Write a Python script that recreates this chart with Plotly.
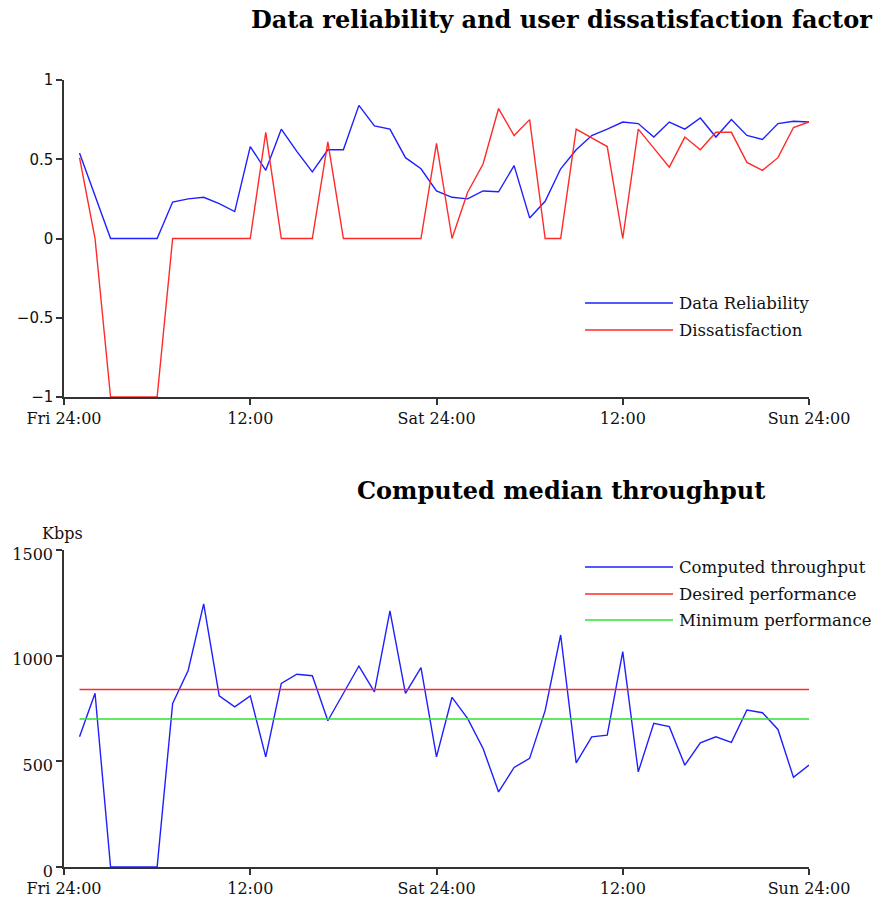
import plotly.graph_objects as go
from plotly.subplots import make_subplots

# ---- data ----
hours = list(range(1, 49))
tick_hours = [0, 12, 24, 36, 48]
tick_labels = ["Fri 24:00", "12:00", "Sat 24:00", "12:00", "Sun 24:00"]

reliability = [0.54, 0.27, 0, 0, 0, 0, 0.23, 0.25, 0.26, 0.22, 0.17, 0.58,
               0.43, 0.69, 0.55, 0.42, 0.56, 0.56, 0.84, 0.71, 0.69, 0.51, 0.44, 0.30,
               0.26, 0.25, 0.30, 0.295, 0.46, 0.13, 0.235, 0.44, 0.56, 0.65, 0.69, 0.735,
               0.725, 0.64, 0.735, 0.69, 0.76, 0.64, 0.75, 0.65, 0.625, 0.725, 0.74, 0.735]

dissatisfaction = [0.51, 0, -1, -1, -1, -1, 0, 0, 0, 0, 0, 0,
                   0.67, 0, 0, 0, 0.61, 0, 0, 0, 0, 0, 0, 0.60,
                   0, 0.29, 0.47, 0.82, 0.65, 0.75, 0, 0, 0.69, 0.635, 0.58, 0,
                   0.69, 0.57, 0.45, 0.64, 0.56, 0.67, 0.67, 0.48, 0.43, 0.51, 0.70, 0.735]

throughput = [616, 822, 0, 0, 0, 0, 774, 930, 1245, 810, 758, 810,
              521, 869, 912, 905, 692, 822, 951, 829, 1212, 822, 943, 521,
              803, 703, 561, 355, 471, 514, 740, 1098, 493, 616, 624, 1019,
              450, 680, 664, 482, 588, 616, 590, 743, 730, 651, 424, 482]

desired = [840] * 48
minimum = [700] * 48

BLUE = "#1f1fff"
RED = "#ff2a2a"
GREEN = "#2ee02e"
SERIF = "DejaVu Serif"

W, H = 873, 898
L, R, T, B = 64, 64, 80, 31
PW, PH = W - L - R, H - T - B


def px(x):
    return (x - L) / PW


def py(y):
    return (H - B - y) / PH


fig = make_subplots(rows=2, cols=1, vertical_spacing=0.0)

fig.add_trace(go.Scatter(x=hours, y=reliability, mode="lines", name="Data Reliability",
                         line=dict(color=BLUE, width=1.4)), row=1, col=1)
fig.add_trace(go.Scatter(x=hours, y=dissatisfaction, mode="lines", name="Dissatisfaction",
                         line=dict(color=RED, width=1.4)), row=1, col=1)
fig.add_trace(go.Scatter(x=hours, y=throughput, mode="lines", name="Computed throughput",
                         line=dict(color=BLUE, width=1.4)), row=2, col=1)
fig.add_trace(go.Scatter(x=hours, y=desired, mode="lines", name="Desired performance",
                         line=dict(color=RED, width=1.4)), row=2, col=1)
fig.add_trace(go.Scatter(x=hours, y=minimum, mode="lines", name="Minimum performance",
                         line=dict(color=GREEN, width=1.4)), row=2, col=1)

axis_common = dict(showgrid=False, zeroline=False, showline=True, linecolor="#333333",
                   linewidth=1.5, ticks="outside", ticklen=6, tickcolor="#333333",
                   tickwidth=1.5, automargin=False)

fig.update_xaxes(range=[0, 48], tickvals=tick_hours, ticktext=tick_labels,
                 tickfont=dict(family=SERIF, size=16, color="#111111"),
                 ticklabelstandoff=0, **axis_common)
fig.update_yaxes(**axis_common)
fig.update_yaxes(range=[-1, 1], tickvals=[-1, -0.5, 0, 0.5, 1],
                 ticktext=["\u22121", "\u22120.5", "0", "0.5", "1"],
                 tickfont=dict(family="DejaVu Sans", size=15, color="#111111"),
                 domain=[py(397), 1.0], row=1, col=1)
fig.update_yaxes(range=[0, 1500], tickvals=[0, 500, 1000, 1500],
                 tickfont=dict(family=SERIF, size=16, color="#111111"),
                 ticklabelshift=4,
                 domain=[0.0, py(550)], row=2, col=1)

shapes = []
annotations = []

# titles
TITLE_FONT = dict(family=SERIF, size=24, color="#000000")
annotations.append(dict(text="<b>Data reliability and user dissatisfaction factor</b>",
                        x=px(561), y=py(20), xref="paper", yref="paper", showarrow=False,
                        xanchor="center", yanchor="middle", font=TITLE_FONT))
annotations.append(dict(text="<b>Computed median throughput</b>",
                        x=px(561), y=py(490), xref="paper", yref="paper", showarrow=False,
                        xanchor="center", yanchor="middle", font=TITLE_FONT))
annotations.append(dict(text="Kbps", x=px(62), y=py(545), xref="paper", yref="paper",
                        showarrow=False, xanchor="center", yanchor="bottom",
                        font=dict(family=SERIF, size=16, color="#111111")))

# manual legends
legend_items = [
    ("Data Reliability", BLUE, 303),
    ("Dissatisfaction", RED, 330),
    ("Computed throughput", BLUE, 567),
    ("Desired performance", RED, 594),
    ("Minimum performance", GREEN, 620),
]
for name, color, yy in legend_items:
    shapes.append(dict(type="line", xref="paper", yref="paper", x0=px(585), x1=px(673),
                       y0=py(yy), y1=py(yy), line=dict(color=color, width=1.4)))
    annotations.append(dict(text=name, x=px(677), y=py(yy), xref="paper", yref="paper",
                            showarrow=False, xanchor="left", yanchor="middle",
                            font=dict(family=SERIF, size=16.5, color="#111111")))

fig.update_layout(width=W, height=H, margin=dict(l=L, r=R, t=T, b=B),
                  plot_bgcolor="white", paper_bgcolor="white", showlegend=False,
                  shapes=shapes, annotations=annotations)

fig.write_html("out.html")
